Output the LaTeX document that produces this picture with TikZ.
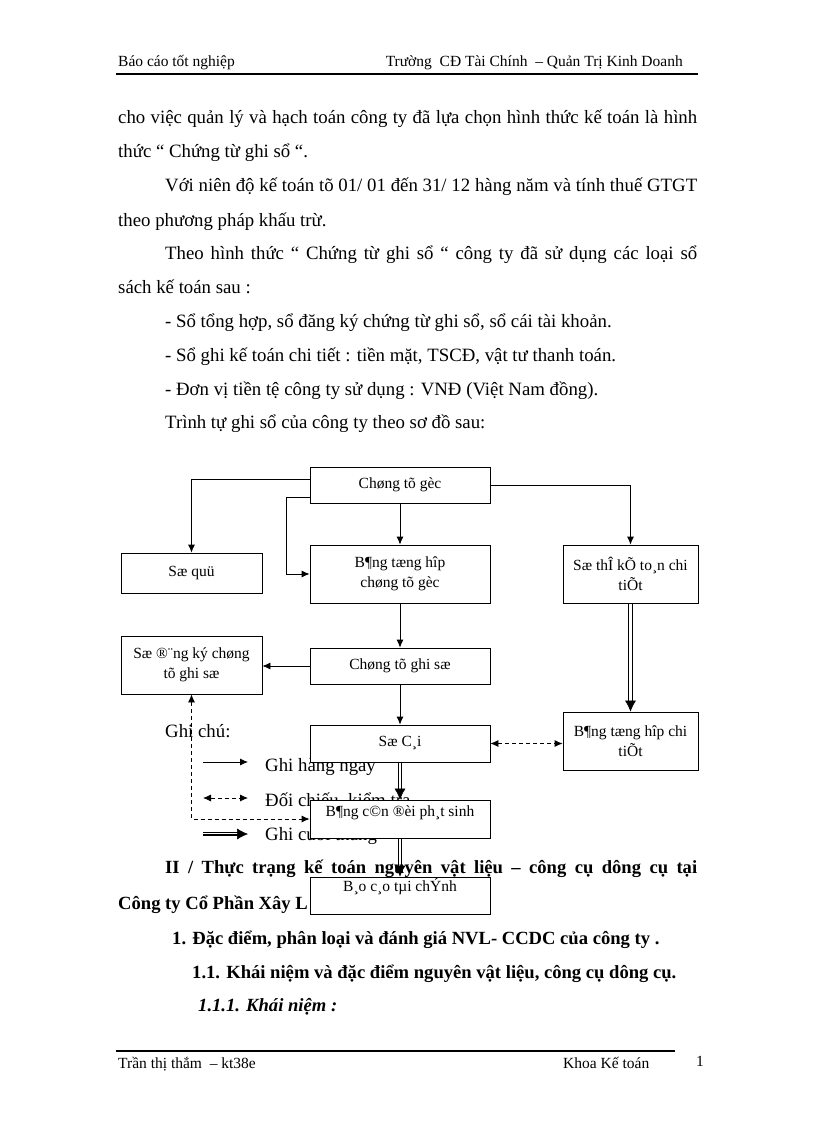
\documentclass[tikz,border=0pt]{standalone}
\usepackage{fontspec}
\setmainfont{Liberation Serif}
\usetikzlibrary{arrows.meta}
\begin{document}
\begin{tikzpicture}[x=1pt,y=-1pt,
 txt/.style={anchor=base west,inner sep=0pt,font=\fontsize{18.8}{22}\selectfont},
 btxt/.style={anchor=base west,inner sep=0pt,font=\fontsize{18.6}{22}\selectfont\bfseries},
 hf/.style={anchor=base west,inner sep=0pt,font=\fontsize{15.5}{18}\selectfont},
 box/.style={draw,fill=white,line width=0.8pt,align=center,inner sep=0pt,font=\fontsize{15.5}{20}\selectfont},
 arr/.style={line width=0.8pt,-{Latex[length=8pt,width=7pt]}},
 dsh/.style={line width=0.8pt,dash pattern=on 4pt off 3pt,{Latex[length=8pt,width=7pt]}-{Latex[length=8pt,width=7pt]}},
 rail/.style={line width=0.8pt},
 bigtip/.style={line width=0.5pt,-{Latex[length=11pt,width=11pt]}},
]
\useasboundingbox[fill=white] (0,0) rectangle (816,1123);

% header
\node[hf] (h1) at (118,67) {Báo cáo tốt nghiệp};
\node[hf,anchor=base east] (h2) at (683,67) {Trường\ \ CĐ Tài Chính \ – Quản Trị Kinh Doanh};
\coordinate (hl1) at (116,74); \coordinate (hl2) at (698,74);
\draw[line width=2pt] (hl1) -- (hl2);

% body
\node[txt] (t1) at (118,124) {\makebox[579pt][s]{cho việc quản lý và hạch toán công ty đã lựa chọn hình thức kế toán là hình}};
\node[txt] (t2) at (118,158) {thức “ Chứng từ ghi sổ “.};
\node[txt] (t3) at (165,192) {\makebox[532pt][s]{Với niên độ kế toán tõ 01/ 01 đến 31/ 12 hàng năm và tính thuế GTGT}};
\node[txt] (t4) at (118,226) {theo phương pháp khấu trừ.};
\node[txt] (t5) at (165,259) {\makebox[532pt][s]{Theo hình thức “ Chứng từ ghi sổ “ công ty đã sử dụng các loại sổ}};
\node[txt] (t6) at (118,293) {sách kế toán sau :};
\node[txt] (t7) at (165,327) {- Sổ tổng hợp, sổ đăng ký chứng từ ghi sổ, sổ cái tài khoản.};
\node[txt] (t8) at (165,361) {- Sổ ghi kế toán chi tiết : tiền mặt, TSCĐ, vật tư thanh toán.};
\node[txt] (t9) at (165,395) {- Đơn vị tiền tệ công ty sử dụng : VNĐ (Việt Nam đồng).};
\node[txt] (t10) at (165,428) {Trình tự ghi sổ của công ty theo sơ đồ sau:};

% legend
\node[txt] (g0) at (165,737) {Ghi chú:};
\node[txt] (g1) at (265,771) {Ghi hàng ngày};
\node[txt] (g2) at (265,806) {Đối chiếu, kiểm tra};
\node[txt] (g3) at (265,840) {Ghi cuối tháng};
\coordinate (la1) at (203,762); \coordinate (lb1) at (248,762);
\coordinate (la2) at (203,798); \coordinate (lb2) at (248,798);
\coordinate (la3) at (203,834); \coordinate (lb3) at (248,834);
\draw[arr] (la1) -- (lb1);
\draw[dsh] (la2) -- (lb2);
\draw[line width=1.1pt] ([yshift=1.6pt]la3) -- ([xshift=-8pt,yshift=1.6pt]lb3);
\draw[line width=1.1pt] ([yshift=-1.6pt]la3) -- ([xshift=-8pt,yshift=-1.6pt]lb3);
\draw[line width=0.6pt] (la3) -- ([xshift=-8pt]lb3);
\draw[bigtip] ([xshift=-11pt]lb3) -- (lb3);

% section
\node[btxt] (s1) at (165,873) {\makebox[532pt][s]{II / Thực trạng kế toán nguyên vật liệu – công cụ dông cụ tại}};
\node[btxt] (s2) at (118,909) {Công ty Cổ Phần Xây L};
\node[btxt] (s3) at (172,944) {1. Đặc điểm, phân loại và đánh giá NVL- CCDC của công ty .};
\node[btxt] (s4) at (192,978) {1.1. Khái niệm và đặc điểm nguyên vật liệu, công cụ dông cụ.};
\node[btxt,font=\fontsize{18.6}{22}\selectfont\bfseries\itshape] (s5) at (198,1011) {1.1.1. Khái niệm :};

% boxes
\node[box,minimum width=180pt,minimum height=36pt] (cg) at (400,485) {Chøng tõ gèc};
\node[box,minimum width=141pt,minimum height=40pt] (sq) at (191.5,573) {Sæ quü};
\node[box,minimum width=180pt,minimum height=58pt] (bth) at (400,574) {B¶ng tæng hîp\\chøng tõ gèc};
\node[box,minimum width=135pt,minimum height=58pt] (stk) at (630.5,574) {Sæ thÎ kÕ to¸n chi\\tiÕt};
\node[box,minimum width=141pt,minimum height=58pt] (sdk) at (191.5,665) {Sæ ®¨ng ký chøng\\tõ ghi sæ};
\node[box,minimum width=180pt,minimum height=36pt] (cgs) at (400,666) {Chøng tõ ghi sæ};
\node[box,minimum width=180pt,minimum height=37pt] (sc) at (400,743.5) {Sæ C¸i};
\node[box,minimum width=135pt,minimum height=58pt] (bthct) at (630.5,741) {B¶ng tæng hîp chi\\tiÕt};
\node[box,minimum width=180pt,minimum height=38pt] (bcd) at (400,819) {\raisebox{3pt}[0pt][0pt]{B¶ng c©n ®èi ph¸t sinh}};
\node[box,minimum width=180pt,minimum height=37pt] (bctc) at (400,895.5) {\raisebox{4pt}[0pt][0pt]{B¸o c¸o tµi chÝnh}};

% connectors
\draw[arr] ([yshift=6pt]cg.west) -| (sq.north);
\draw[arr] ([yshift=-12pt]cg.west) -- ++(-23,0) |- (bth.west);
\draw[arr] (cg) -- (bth);
\draw[arr] (cg.east) -| (stk.north);
\draw[arr] (bth) -- (cgs);
\draw[arr] (cgs.west) -- (cgs.west -| sdk.east);
\draw[arr] (cgs) -- (sc);
\draw[dsh] (sc.east) -- (sc.east -| bthct.west);
\draw[dsh] (sdk.south) |- (bcd.west);
% double connectors
\draw[rail] ([xshift=-1.8pt]stk.south) -- ([xshift=-1.8pt,yshift=9pt]bthct.north);
\draw[rail] ([xshift=1.8pt]stk.south) -- ([xshift=1.8pt,yshift=9pt]bthct.north);
\draw[bigtip] ([yshift=11pt]bthct.north) -- (bthct.north);
\draw[rail] ([xshift=-1.8pt]sc.south) -- ([xshift=-1.8pt,yshift=9pt]bcd.north);
\draw[rail] ([xshift=1.8pt]sc.south) -- ([xshift=1.8pt,yshift=9pt]bcd.north);
\draw[bigtip] ([yshift=11pt]bcd.north) -- (bcd.north);
\draw[rail] ([xshift=-1.8pt]bcd.south) -- ([xshift=-1.8pt,yshift=9pt]bctc.north);
\draw[rail] ([xshift=1.8pt]bcd.south) -- ([xshift=1.8pt,yshift=9pt]bctc.north);
\draw[bigtip] ([yshift=11pt]bctc.north) -- (bctc.north);

% footer
\coordinate (fl1) at (116,1051); \coordinate (fl2) at (675,1051);
\draw[line width=2pt] (fl1) -- (fl2);
\node[hf] (f1) at (118,1068) {Trần thị thắm \ – kt38e};
\node[hf] (f2) at (563,1068) {Khoa Kế toán};
\node[hf] (f3) at (696,1066) {1};
\end{tikzpicture}
\end{document}
